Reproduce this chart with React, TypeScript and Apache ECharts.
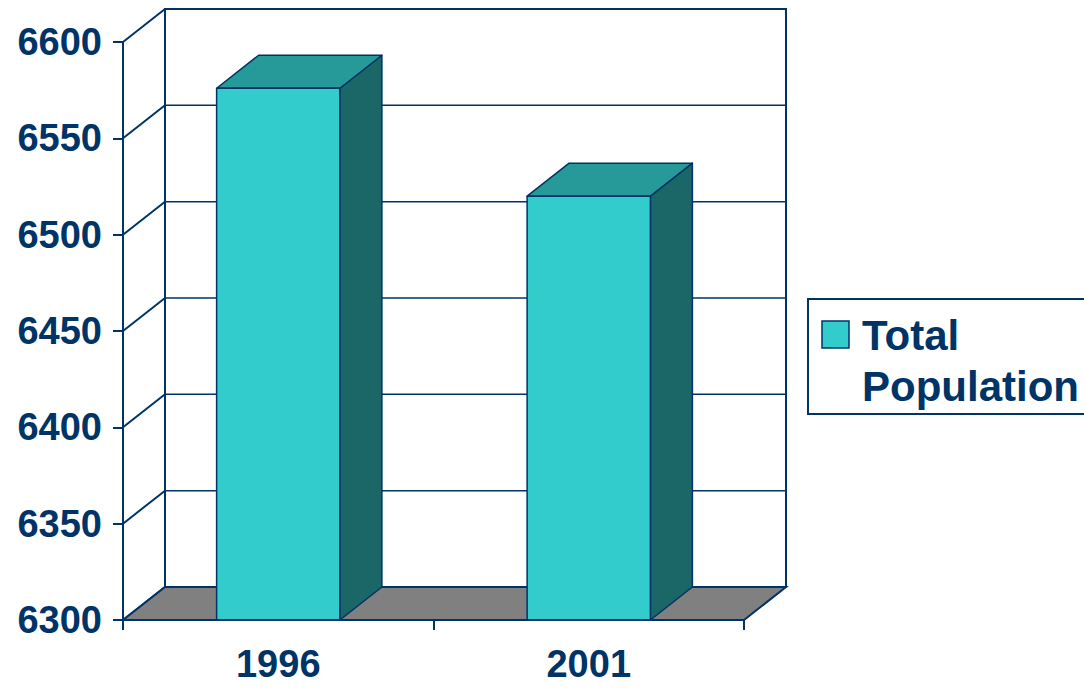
import React, { useEffect, useRef } from "react";
import * as echarts from "echarts";

const categories = ["1996", "2001"];
const populationValues = [6576, 6520];
const seriesName = "Total Population";
const legendLines = ["Total", "Population"];
const yMin = 6300;
const yMax = 6600;
const yStep = 50;
const yTicks = [6300, 6350, 6400, 6450, 6500, 6550, 6600];

const NAVY = "#003366";
const FRONT = "#33CCCC";
const TOP = "#269999";
const SIDE = "#1B6666";
const FLOOR = "#808080";
const FONT = "'Liberation Sans', Arial, sans-serif";
const DX = 42;
const DY = 33;

export default function App() {
  const ref = useRef<HTMLDivElement>(null);

  useEffect(() => {
    if (!ref.current) return;
    const chart = echarts.init(ref.current, null, { renderer: "svg" });

    const renderWalls = (params: any, api: any) => {
      const cs = params.coordSys;
      const x0 = cs.x;
      const x1 = cs.x + cs.width;
      const yb = cs.y + cs.height;
      const yt = cs.y;
      const children: any[] = [];
      children.push({
        type: "rect",
        shape: { x: x0 + DX, y: yt - DY, width: cs.width, height: cs.height },
        style: { fill: "#ffffff", stroke: NAVY, lineWidth: 2 },
      });
      yTicks.forEach((v) => {
        const y = api.coord([0, v])[1];
        if (v > yMin && v < yMax) {
          children.push({
            type: "line",
            shape: { x1: x0 + DX, y1: y - DY, x2: x1 + DX, y2: y - DY },
            style: { stroke: NAVY, lineWidth: 1.5 },
          });
        }
        children.push({
          type: "line",
          shape: { x1: x0, y1: y, x2: x0 + DX, y2: y - DY },
          style: { stroke: NAVY, lineWidth: 2 },
        });
      });
      children.push({
        type: "polygon",
        shape: {
          points: [
            [x0, yb],
            [x0 + DX, yb - DY],
            [x1 + DX, yb - DY],
            [x1, yb],
          ],
        },
        style: { fill: FLOOR, stroke: NAVY, lineWidth: 2 },
      });
      return { type: "group", children };
    };

    const renderBar = (params: any, api: any) => {
      const x = api.value(0);
      const v = api.value(1);
      const top = api.coord([x, v]);
      const bot = api.coord([x, yMin]);
      const w = api.size([1, 0])[0] * 0.397;
      const l = top[0] - w / 2;
      const r = top[0] + w / 2;
      const ty = top[1];
      const by = bot[1];
      const stroke = { stroke: NAVY, lineWidth: 1.5, lineJoin: "round" };
      return {
        type: "group",
        children: [
          {
            type: "polygon",
            shape: { points: [[r, ty], [r + DX, ty - DY], [r + DX, by - DY], [r, by]] },
            style: { fill: SIDE, ...stroke },
          },
          {
            type: "polygon",
            shape: { points: [[l, ty], [l + DX, ty - DY], [r + DX, ty - DY], [r, ty]] },
            style: { fill: TOP, ...stroke },
          },
          {
            type: "rect",
            shape: { x: l, y: ty, width: w, height: by - ty },
            style: { fill: FRONT, ...stroke },
          },
        ],
      };
    };

    chart.setOption({
      animation: false,
      backgroundColor: "#ffffff",
      textStyle: { fontFamily: FONT },
      grid: { left: 123, right: 340, top: 42, bottom: 68, containLabel: false },
      xAxis: {
        type: "category",
        data: categories,
        boundaryGap: true,
        axisLine: { show: true, lineStyle: { color: NAVY, width: 2 } },
        axisTick: { show: true, length: 10, alignWithLabel: false, lineStyle: { color: NAVY, width: 2 } },
        axisLabel: {
          color: NAVY,
          fontSize: 38,
          fontWeight: "bold",
          fontFamily: FONT,
          margin: 25,
        },
        splitLine: { show: false },
        z: 10,
      },
      yAxis: {
        type: "value",
        min: yMin,
        max: yMax,
        interval: yStep,
        axisLine: { show: true, lineStyle: { color: NAVY, width: 2 } },
        axisTick: { show: true, length: 10, lineStyle: { color: NAVY, width: 2 } },
        axisLabel: {
          color: NAVY,
          fontSize: 38,
          fontWeight: "bold",
          fontFamily: FONT,
          margin: 21,
          formatter: (v: number) => String(v),
        },
        splitLine: { show: false },
        z: 10,
      },
      series: [
        {
          type: "custom",
          name: "walls",
          renderItem: renderWalls,
          data: [[0, yMin]],
          z: 1,
          silent: true,
        },
        {
          type: "custom",
          name: seriesName,
          renderItem: renderBar,
          data: categories.map((c, i) => [i, populationValues[i]]),
          z: 5,
        },
      ],
      graphic: [
        {
          type: "rect",
          shape: { x: 808, y: 299, width: 300, height: 115 },
          style: { fill: "#ffffff", stroke: NAVY, lineWidth: 2 },
        },
        {
          type: "rect",
          shape: { x: 822, y: 321, width: 27, height: 27 },
          style: { fill: FRONT, stroke: NAVY, lineWidth: 1.5 },
        },
        {
          type: "text",
          x: 862,
          y: 335,
          style: {
            text: legendLines[0],
            fill: NAVY,
            font: `bold 42px ${FONT}`,
            verticalAlign: "middle",
            align: "left",
          },
        },
        {
          type: "text",
          x: 862,
          y: 386,
          style: {
            text: legendLines[1],
            fill: NAVY,
            font: `bold 42px ${FONT}`,
            verticalAlign: "middle",
            align: "left",
          },
        },
      ],
    });

    return () => chart.dispose();
  }, []);

  return (
    <div
      ref={ref}
      style={{ position: "fixed", left: 0, top: 0, width: 1084, height: 688 }}
    />
  );
}
